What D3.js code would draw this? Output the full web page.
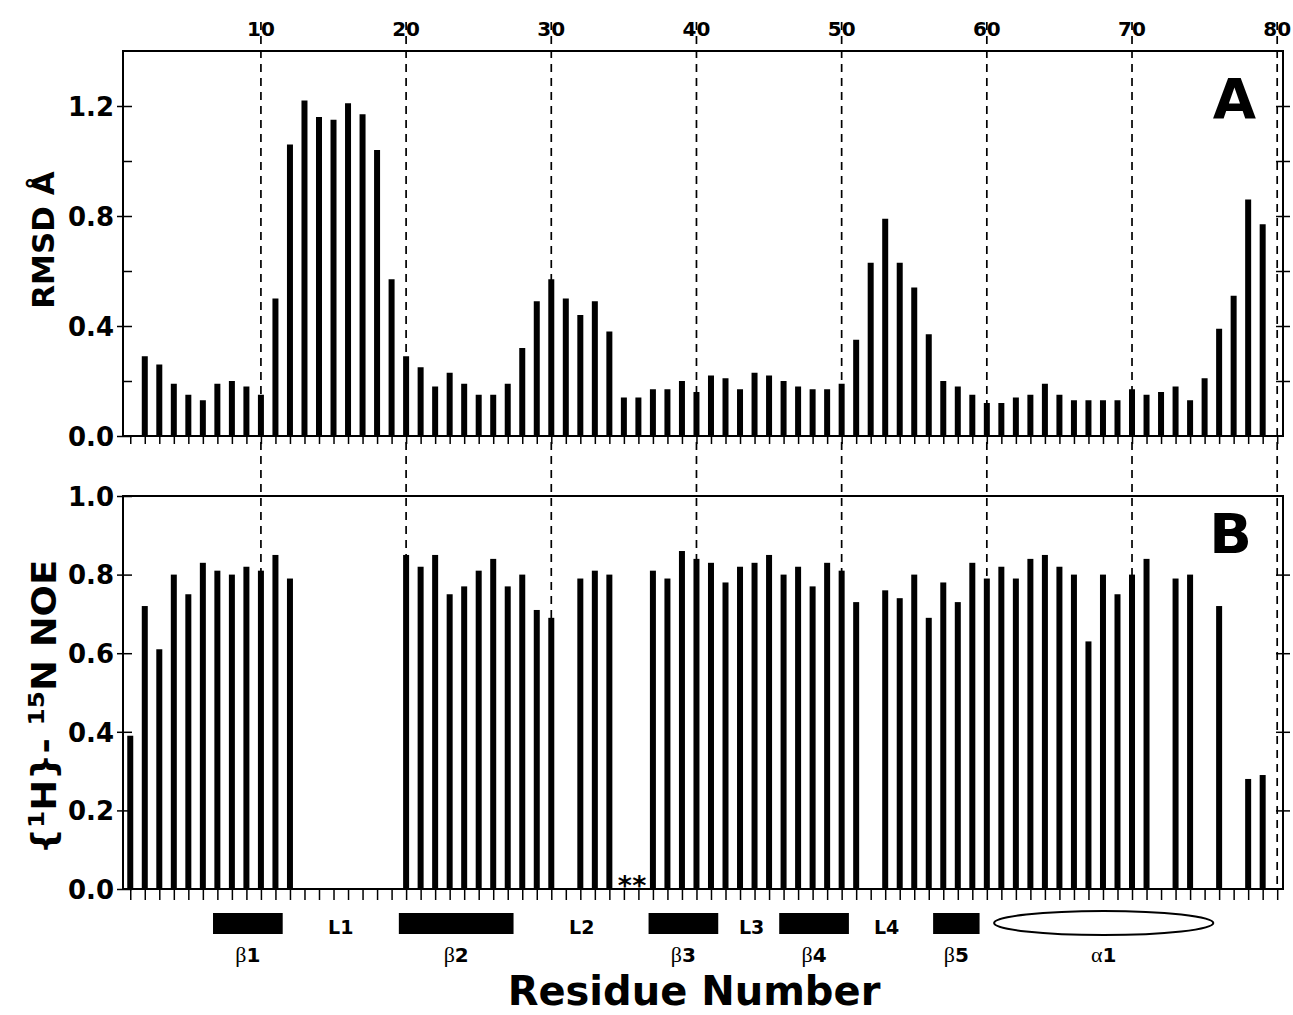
<!DOCTYPE html>
<html>
<head>
<meta charset="utf-8">
<script src="https://cdnjs.cloudflare.com/ajax/libs/d3/7.8.5/d3.min.js"></script>
<style>
  body { margin: 0; background: #fff; }
  svg text { font-family: "DejaVu Sans", sans-serif; font-weight: bold; fill: #000; }
</style>
</head>
<body>
<svg id="chart" width="1293" height="1015"></svg>
<script>
// residue numbers 1..80, null = no value
const residues = d3.range(1, 81);

const rmsd = [
  null, 0.29, 0.26, 0.19, 0.15, 0.13, 0.19, 0.20, 0.18, 0.15,
  0.50, 1.06, 1.22, 1.16, 1.15, 1.21, 1.17, 1.04, 0.57, 0.29,
  0.25, 0.18, 0.23, 0.19, 0.15, 0.15, 0.19, 0.32, 0.49, 0.57,
  0.50, 0.44, 0.49, 0.38, 0.14, 0.14, 0.17, 0.17, 0.20, 0.16,
  0.22, 0.21, 0.17, 0.23, 0.22, 0.20, 0.18, 0.17, 0.17, 0.19,
  0.35, 0.63, 0.79, 0.63, 0.54, 0.37, 0.20, 0.18, 0.15, 0.12,
  0.12, 0.14, 0.15, 0.19, 0.15, 0.13, 0.13, 0.13, 0.13, 0.17,
  0.15, 0.16, 0.18, 0.13, 0.21, 0.39, 0.51, 0.86, 0.77, null
];

const noe = [
  0.39, 0.72, 0.61, 0.80, 0.75, 0.83, 0.81, 0.80, 0.82, 0.81,
  0.85, 0.79, null, null, null, null, null, null, null, 0.85,
  0.82, 0.85, 0.75, 0.77, 0.81, 0.84, 0.77, 0.80, 0.71, 0.69,
  null, 0.79, 0.81, 0.80, null, null, 0.81, 0.79, 0.86, 0.84,
  0.83, 0.78, 0.82, 0.83, 0.85, 0.80, 0.82, 0.77, 0.83, 0.81,
  0.73, null, 0.76, 0.74, 0.80, 0.69, 0.78, 0.73, 0.83, 0.79,
  0.82, 0.79, 0.84, 0.85, 0.82, 0.80, 0.63, 0.80, 0.75, 0.80,
  0.84, null, 0.79, 0.80, null, 0.72, null, 0.28, 0.29, null
];

// residues without NOE data (marked with *)
const starResidues = [35, 36];

// secondary structure (in residue units)
const strandLabels = ["1", "2", "3", "4", "5"];
const strandStart = [6.7, 19.5, 36.7, 45.7, 56.3];
const strandEnd = [11.5, 27.4, 41.5, 50.5, 59.5];
const helixLabels = ["1"];
const helixStart = [60.5];
const helixEnd = [75.6];
const loopLabels = ["L1", "L2", "L3", "L4"];
const loopPos = [15.5, 32.1, 43.8, 53.1];

const tenTicks = [10, 20, 30, 40, 50, 60, 70, 80];
const rmsdMajor = [0, 0.4, 0.8, 1.2];
const rmsdMinor = [0.2, 0.6, 1.0];
const noeMajor = [0, 0.2, 0.4, 0.6, 0.8, 1.0];

const svg = d3.select("#chart");
const left = 123, right = 1283;

const x = d3.scaleLinear().domain([0.5, 80.4]).range([left, right]);
const yA = d3.scaleLinear().domain([0, 1.4]).range([436, 51]);
const yB = d3.scaleLinear().domain([0, 1.0]).range([889, 496]);
const barW = 6;

// dashed guide lines every 10 residues
svg.append("g")
  .selectAll("line")
  .data(tenTicks)
  .enter().append("line")
  .attr("x1", d => x(d)).attr("x2", d => x(d))
  .attr("y1", 22).attr("y2", 889)
  .attr("stroke", "#000")
  .attr("stroke-width", 1.7)
  .attr("stroke-dasharray", "8,6");

// top residue labels
svg.append("g")
  .selectAll("text")
  .data(tenTicks)
  .enter().append("text")
  .attr("x", d => x(d))
  .attr("y", 36)
  .attr("text-anchor", "middle")
  .style("font-size", "20px")
  .text(d => d);

function panel(yScale, values, major, minor, rightTicks, bottomTick) {
  const g = svg.append("g");
  const y0 = yScale.range()[0], y1 = yScale.range()[1];

  // bars
  g.selectAll("rect")
    .data(residues.filter((r, i) => values[i] != null))
    .enter().append("rect")
    .attr("x", r => x(r) - barW / 2)
    .attr("width", barW)
    .attr("y", r => yScale(values[r - 1]))
    .attr("height", r => y0 - yScale(values[r - 1]))
    .attr("fill", "#000");

  // frame
  g.append("rect")
    .attr("x", left).attr("y", y1)
    .attr("width", right - left).attr("height", y0 - y1)
    .attr("fill", "none").attr("stroke", "#000").attr("stroke-width", 2);

  // left axis, labelled ticks outward
  g.append("g")
    .attr("transform", `translate(${left},0)`)
    .call(d3.axisLeft(yScale).tickValues(major).tickFormat(d3.format(".1f")).tickSize(6).tickPadding(3))
    .call(a => a.select(".domain").remove())
    .call(a => a.selectAll("text").style("font-size", "26px").attr("dy", "0.36em"))
    .call(a => a.selectAll("line").attr("stroke-width", 1.5));

  // left axis, ticks inward
  g.append("g")
    .attr("transform", `translate(${left},0)`)
    .call(d3.axisRight(yScale).tickValues(major.concat(minor)).tickFormat("").tickSize(9))
    .call(a => a.select(".domain").remove())
    .call(a => a.selectAll("line").attr("stroke-width", 1.5));

  // right axis, crossing ticks
  g.append("g")
    .attr("transform", `translate(${right - 7},0)`)
    .call(d3.axisRight(yScale).tickValues(rightTicks).tickFormat("").tickSize(14))
    .call(a => a.select(".domain").remove())
    .call(a => a.selectAll("line").attr("stroke-width", 1.5));

  // residue ticks along the bottom
  g.append("g")
    .attr("transform", `translate(0,${y0})`)
    .call(d3.axisBottom(x).tickValues(residues).tickFormat("").tickSize(bottomTick).tickSizeOuter(0))
    .call(a => a.select(".domain").remove())
    .call(a => a.selectAll("line").attr("stroke-width", 1.5));
  return g;
}

panel(yA, rmsd, rmsdMajor, rmsdMinor, [0.2, 0.4, 0.6, 0.8, 1.0, 1.2], 8);
panel(yB, noe, noeMajor, [], [0.2, 0.4, 0.6, 0.8], 11);

// panel letters
svg.append("text").attr("x", 1256).attr("y", 118).attr("text-anchor", "end")
  .style("font-size", "56px").text("A");
svg.append("text").attr("x", 1252).attr("y", 553).attr("text-anchor", "end")
  .style("font-size", "56px").text("B");

// asterisks for missing residues
svg.append("g")
  .selectAll("text")
  .data(starResidues)
  .enter().append("text")
  .attr("x", d => x(d) + 1)
  .attr("y", 895)
  .attr("text-anchor", "middle")
  .style("font-size", "27px")
  .text("*");

// y axis titles
svg.append("text")
  .attr("transform", "translate(54,240) rotate(-90)")
  .attr("text-anchor", "middle")
  .style("font-size", "31px")
  .text("RMSD Å");

const noeTitle = svg.append("text")
  .attr("transform", "translate(56,707) rotate(-90) scale(1.12,1)")
  .attr("text-anchor", "middle")
  .style("font-size", "33px");
noeTitle.append("tspan").text("{");
noeTitle.append("tspan").attr("dy", -12).style("font-size", "22px").text("1");
noeTitle.append("tspan").attr("dy", 12).text("H}- ");
noeTitle.append("tspan").attr("dy", -12).style("font-size", "22px").text("15");
noeTitle.append("tspan").attr("dy", 12).text("N NOE");

// secondary structure elements
const ssY = 913, ssH = 21;
svg.append("g")
  .selectAll("rect")
  .data(strandStart)
  .enter().append("rect")
  .attr("x", (d, i) => x(d))
  .attr("width", (d, i) => x(strandEnd[i]) - x(d))
  .attr("y", ssY).attr("height", ssH)
  .attr("fill", "#000");

svg.append("g")
  .selectAll("ellipse")
  .data(helixStart)
  .enter().append("ellipse")
  .attr("cx", (d, i) => (x(d) + x(helixEnd[i])) / 2)
  .attr("rx", (d, i) => (x(helixEnd[i]) - x(d)) / 2)
  .attr("cy", 923).attr("ry", 12)
  .attr("fill", "none").attr("stroke", "#000").attr("stroke-width", 2);

function greekLabel(sel, letter, digit) {
  sel.append("tspan")
    .style("font-family", "'Liberation Serif', serif")
    .style("font-weight", "normal")
    .style("font-size", "22px")
    .text(letter);
  sel.append("tspan").text(digit);
}

svg.append("g")
  .selectAll("text")
  .data(strandStart)
  .enter().append("text")
  .attr("x", (d, i) => (x(d) + x(strandEnd[i])) / 2)
  .attr("y", 962)
  .attr("text-anchor", "middle")
  .style("font-size", "20px")
  .each(function (d, i) { greekLabel(d3.select(this), "β", strandLabels[i]); });

svg.append("g")
  .selectAll("text")
  .data(helixStart)
  .enter().append("text")
  .attr("x", (d, i) => (x(d) + x(helixEnd[i])) / 2)
  .attr("y", 962)
  .attr("text-anchor", "middle")
  .style("font-size", "20px")
  .each(function (d, i) { greekLabel(d3.select(this), "α", helixLabels[i]); });

svg.append("g")
  .selectAll("text")
  .data(loopPos)
  .enter().append("text")
  .attr("x", d => x(d))
  .attr("y", 934)
  .attr("text-anchor", "middle")
  .style("font-size", "19px")
  .text((d, i) => loopLabels[i]);

// x axis title
svg.append("text")
  .attr("x", 694).attr("y", 1005)
  .attr("text-anchor", "middle")
  .style("font-size", "40px")
  .text("Residue Number");
</script>
</body>
</html>
